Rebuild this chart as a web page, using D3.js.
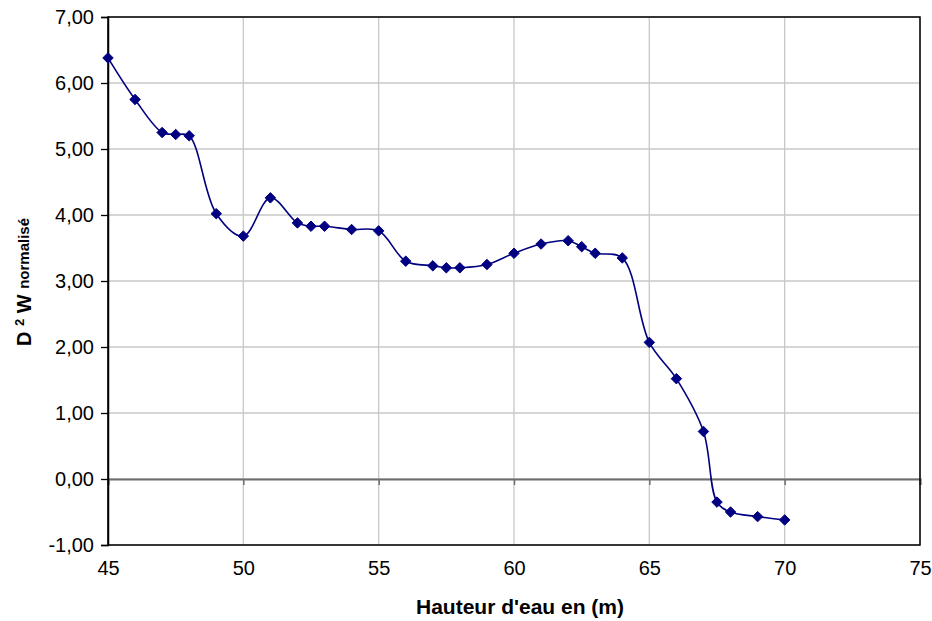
<!DOCTYPE html>
<html>
<head>
<meta charset="utf-8">
<script src="https://cdn.jsdelivr.net/npm/d3@7/dist/d3.min.js"></script>
<style>
html,body{margin:0;padding:0;background:#fff;}
svg{display:block;}
text{font-family:"Liberation Sans",Arial,sans-serif;}
</style>
</head>
<body>
<svg id="chart" width="932" height="621"></svg>
<script>
const hauteur = [45,46,47,47.5,48,49,50,51,52,52.5,53,54,55,56,57,57.5,58,59,60,61,62,62.5,63,64,65,66,67,67.5,68,69,70];
const d2w = [6.38,5.75,5.25,5.22,5.20,4.02,3.68,4.26,3.88,3.83,3.83,3.78,3.76,3.30,3.23,3.20,3.20,3.25,3.42,3.56,3.61,3.52,3.42,3.35,2.07,1.52,0.72,-0.35,-0.50,-0.57,-0.62];
const xTicks = [45,50,55,60,65,70,75];
const yTicks = [-1,0,1,2,3,4,5,6,7];
const xTitle = "Hauteur d'eau en (m)";

const data = hauteur.map((h,i)=>({x:h,y:d2w[i]}));
const svg = d3.select("#chart");
const L=108, R=920, T=17, B=545;
const x = d3.scaleLinear().domain([45,75]).range([L,R]);
const y = d3.scaleLinear().domain([-1,7]).range([B,T]);
const fmt = d => d3.format(".2f")(d).replace(".",",").replace("\u2212","-");

// grid
svg.append("g").selectAll("line").data(xTicks).join("line")
  .attr("x1",d=>x(d)).attr("x2",d=>x(d)).attr("y1",T).attr("y2",B)
  .attr("stroke","#c8c8c8").attr("stroke-width",1.3);
svg.append("g").selectAll("line").data(yTicks).join("line")
  .attr("x1",L).attr("x2",R).attr("y1",d=>y(d)).attr("y2",d=>y(d))
  .attr("stroke","#c8c8c8").attr("stroke-width",1.3);

// zero axis
const xAxis = d3.axisBottom(x).tickValues(xTicks).tickSize(6).tickFormat("");
const gx0 = svg.append("g").attr("transform",`translate(0,${y(0)})`).call(xAxis);
gx0.select(".domain").attr("stroke","#6e6e6e").attr("stroke-width",2);
gx0.selectAll(".tick line").attr("stroke","#6e6e6e").attr("stroke-width",1.5);

// border
svg.append("rect").attr("x",L).attr("y",T).attr("width",R-L).attr("height",B-T)
  .attr("fill","none").attr("stroke","#000").attr("stroke-width",1.5);

// y axis
const yAxis = d3.axisLeft(y).tickValues(yTicks).tickSize(7).tickPadding(7).tickFormat(fmt);
const gy = svg.append("g").attr("transform",`translate(${L},0)`).call(yAxis);
gy.select(".domain").attr("stroke","#000").attr("stroke-width",1.5);
gy.selectAll(".tick line").attr("stroke","#000").attr("stroke-width",1.3);
gy.selectAll(".tick text").attr("font-size",20).attr("fill","#000")
  .attr("font-family","'Liberation Sans',Arial,sans-serif");

// x labels at bottom
const gxb = svg.append("g").attr("transform",`translate(0,${B})`)
  .call(d3.axisBottom(x).tickValues(xTicks).tickSize(0).tickPadding(16).tickFormat(d3.format("d")));
gxb.select(".domain").remove();
gxb.selectAll(".tick text").attr("font-size",20).attr("fill","#000")
  .attr("font-family","'Liberation Sans',Arial,sans-serif");

// line
const line = d3.line().x(d=>x(d.x)).y(d=>y(d.y)).curve(d3.curveCatmullRom.alpha(0.5));
svg.append("path").datum(data).attr("d",line).attr("fill","none")
  .attr("stroke","#000080").attr("stroke-width",1.6);

// markers
const sym = d3.symbol().type(d3.symbolDiamond2).size(70);
svg.append("g").selectAll("path").data(data).join("path")
  .attr("transform",d=>`translate(${x(d.x)},${y(d.y)})`)
  .attr("d",sym).attr("fill","#000080").attr("stroke","#000080").attr("stroke-width",1);

// x title
svg.append("text").attr("x",(L+R)/2+6).attr("y",614).attr("text-anchor","middle")
  .attr("font-size",21).attr("font-weight","bold").attr("fill","#000").text(xTitle);

// y title
const yt = svg.append("text").attr("transform","translate(31,282) rotate(-90)")
  .attr("text-anchor","middle").attr("font-weight","bold").attr("font-size",20).attr("fill","#000");
yt.append("tspan").text("D ");
yt.append("tspan").attr("font-size",13).attr("dy",-7).text("2");
yt.append("tspan").attr("dy",7).text(" W ");
yt.append("tspan").attr("font-size",15).attr("dy",-2).text("normalisé");
</script>
</body>
</html>
